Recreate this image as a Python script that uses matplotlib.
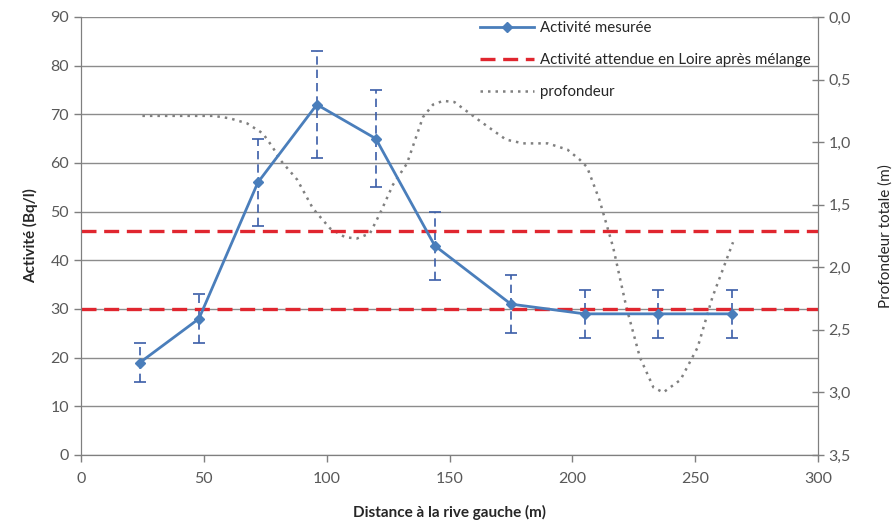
import matplotlib.pyplot as plt
import numpy as np

# mesures d'activite
distance = [24, 48, 72, 96, 120, 144, 175, 205, 235, 265]
activite = [19, 28, 56, 72, 65, 43, 31, 29, 29, 29]
err_haut = [23, 33, 65, 83, 75, 50, 37, 34, 34, 34]
err_bas = [15, 23, 47, 61, 55, 36, 25, 24, 24, 24]

# activite attendue apres melange
attendu = [46, 30]

# profondeur
dist_prof = [25, 40, 54, 60.6, 67.6, 74, 78, 81, 88, 94.4, 101.4, 107.5, 112.3, 117.6,
             121.7, 127, 132.7, 139.2, 143.3, 147.4, 152, 163, 173, 180, 190, 198, 203,
             206, 208.5, 211, 216.6, 222, 227.5, 233, 237, 244, 251, 257, 265.4]
profondeur = [0.79, 0.79, 0.79, 0.81, 0.85, 0.93, 1.04, 1.14, 1.30, 1.53, 1.69, 1.76, 1.77, 1.73,
              1.57, 1.34, 1.17, 0.80, 0.70, 0.67, 0.68, 0.84, 0.98, 1.01, 1.01, 1.06, 1.14,
              1.20, 1.33, 1.46, 1.84, 2.32, 2.72, 2.96, 3.00, 2.90, 2.64, 2.24, 1.80]

xticks = [0, 50, 100, 150, 200, 250, 300]
yticks = [0, 10, 20, 30, 40, 50, 60, 70, 80, 90]
yticks2 = [0.0, 0.5, 1.0, 1.5, 2.0, 2.5, 3.0, 3.5]

plt.rcParams['font.family'] = ['Lato', 'DejaVu Sans']
grijs = '#7f7f7f'
tekst = '#595959'
blauw = '#4a7ebb'
rood = '#e0262f'

fig = plt.figure(figsize=(8.95, 5.21), dpi=100)
ax = fig.add_axes([0.0905, 0.1267, 0.8235, 0.8407])
ax2 = ax.twinx()

# profondeur sur l'axe droit
ax2.plot(dist_prof, profondeur, ls=(0, (1, 2)), color='#808080', lw=1.8, label='profondeur')
ax2.set_ylim(3.5, 0)
ax2.set_yticks(yticks2)
ax2.set_yticklabels([('%.1f' % v).replace('.', ',') for v in yticks2])
ax2.set_ylabel('Profondeur totale (m)', fontsize=11, color='#262626', labelpad=20)

ax.set_zorder(ax2.get_zorder() + 1)
ax.patch.set_visible(False)

for yv in yticks:
    ax.axhline(yv, color='#8c8c8c', lw=1, zorder=0)

x = np.array(distance)
a = np.array(activite)
eb = ax.errorbar(x, a, yerr=[a - np.array(err_bas), np.array(err_haut) - a], fmt='none',
                 ecolor='#3b5ea8', elinewidth=1.2, capsize=4, capthick=1.2, zorder=2)
eb[2][0].set_linestyle((0, (5, 3)))
l1, = ax.plot(distance, activite, color=blauw, lw=2.0, marker='D', ms=5.5,
              mfc=blauw, mec=blauw, zorder=3, label='Activité mesurée')
for k, v in enumerate(attendu):
    l2 = ax.axhline(v, color=rood, lw=2.4, ls=(0, (4.5, 2.3)), zorder=2,
                    label='Activité attendue en Loire après mélange' if k == 0 else None)

ax.set_xlim(0, 300)
ax.set_ylim(0, 90)
ax.set_xticks(xticks)
ax.set_yticks(yticks)
ax.set_xlabel('Distance à la rive gauche (m)', fontsize=11, fontweight='bold', color='#262626', labelpad=14)
ax.set_ylabel('Activité (Bq/l)', fontsize=11, fontweight='bold', color='#262626', labelpad=9)

for a_ in (ax, ax2):
    for s in a_.spines.values():
        s.set_color(grijs)
    a_.spines['top'].set_visible(False)
    a_.tick_params(colors=grijs, labelcolor=tekst, labelsize=11.5, length=5, width=1)
ax.tick_params(axis='x', pad=7)
ax2.tick_params(direction='inout', length=8)

l3 = ax2.get_lines()[0]
leg = ax.legend([l1, l2, l3], [l1.get_label(), 'Activité attendue en Loire après mélange', 'profondeur'],
                loc='upper left', bbox_to_anchor=(0.521, 0.985), bbox_transform=fig.transFigure,
                frameon=False, fontsize=10.8, handlelength=3.6, labelspacing=1.2, handletextpad=0.4)
for t in leg.get_texts():
    t.set_color('#262626')

fig.savefig('out.png', dpi=100)
